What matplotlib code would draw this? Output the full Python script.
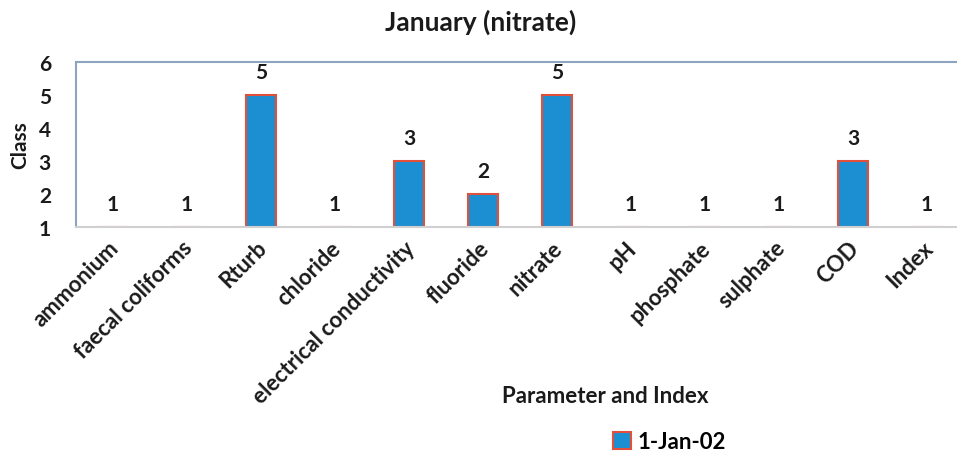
import numpy as np
import matplotlib
matplotlib.use('Agg')
import matplotlib.pyplot as plt
from matplotlib.transforms import ScaledTranslation

plt.rcParams['font.family'] = ['Lato', 'DejaVu Sans']
plt.rcParams['font.weight'] = 'bold'

# data
params = ['ammonium', 'faecal coliforms', 'Rturb', 'chloride',
          'electrical conductivity', 'fluoride', 'nitrate', 'pH',
          'phosphate', 'sulphate', 'COD', 'Index']
classes = [1, 1, 5, 1, 3, 2, 5, 1, 1, 1, 3, 1]
series_name = '1-Jan-02'
yticks = [1, 2, 3, 4, 5, 6]

fig = plt.figure(figsize=(9.57, 4.56), dpi=100)
ax = fig.add_axes([0.0794, 0.5, 0.928, 0.362])

x = np.arange(len(params))
vals = np.array(classes)
bars = ax.bar(x, vals - 1, bottom=1, width=0.4, color='#1b8fd2',
              edgecolor='#e2503c', linewidth=1.5, label=series_name)

for xi, v in zip(x, vals):
    ax.annotate(str(v), (xi, v), xytext=(0, 9), textcoords='offset points',
                ha='center', va='bottom', fontsize=15, fontweight='bold',
                color='#1a1a1a')

ax.set_xlim(-0.5, len(params) - 0.5)
ax.set_ylim(1, 6)
ax.set_yticks(yticks)
ax.set_yticklabels([str(t) for t in yticks], fontsize=15, fontweight='bold',
                   color='#1a1a1a')
ax.tick_params(axis='y', length=0, pad=18)
ax.tick_params(axis='x', length=0, pad=7)
ax.set_xticks(x)
ax.set_xticklabels(params, rotation=45, ha='right', va='top',
                   rotation_mode='anchor', fontsize=16, fontweight='bold',
                   color='#1a1a1a')
# nudge the rotated labels a little to the left
shift = ScaledTranslation(-5 / 100, 0, fig.dpi_scale_trans)
for lbl in ax.get_xticklabels():
    lbl.set_transform(lbl.get_transform() + shift)

for s in ['top', 'left']:
    ax.spines[s].set_color('#8ea3c0')
    ax.spines[s].set_linewidth(1.5)
ax.spines['bottom'].set_color('#d0d0d0')
ax.spines['bottom'].set_linewidth(1.5)
ax.spines['right'].set_visible(False)

ax.set_ylabel('Class', fontsize=15, fontweight='bold', labelpad=6,
              color='#1a1a1a')
fig.text(0.502, 0.952, 'January (nitrate)', ha='center', va='center',
         fontsize=19, fontweight='bold', color='#1a1a1a')
fig.text(0.632, 0.13, 'Parameter and Index', ha='center', va='center',
         fontsize=16, fontweight='bold', color='#1a1a1a')

fig.legend(handles=[bars], loc='center', bbox_to_anchor=(0.7, 0.03),
           frameon=False, handlelength=0.8, handleheight=0.8,
           handletextpad=0.3, prop={'weight': 'bold', 'size': 16})

fig.savefig('out.png', dpi=100)
